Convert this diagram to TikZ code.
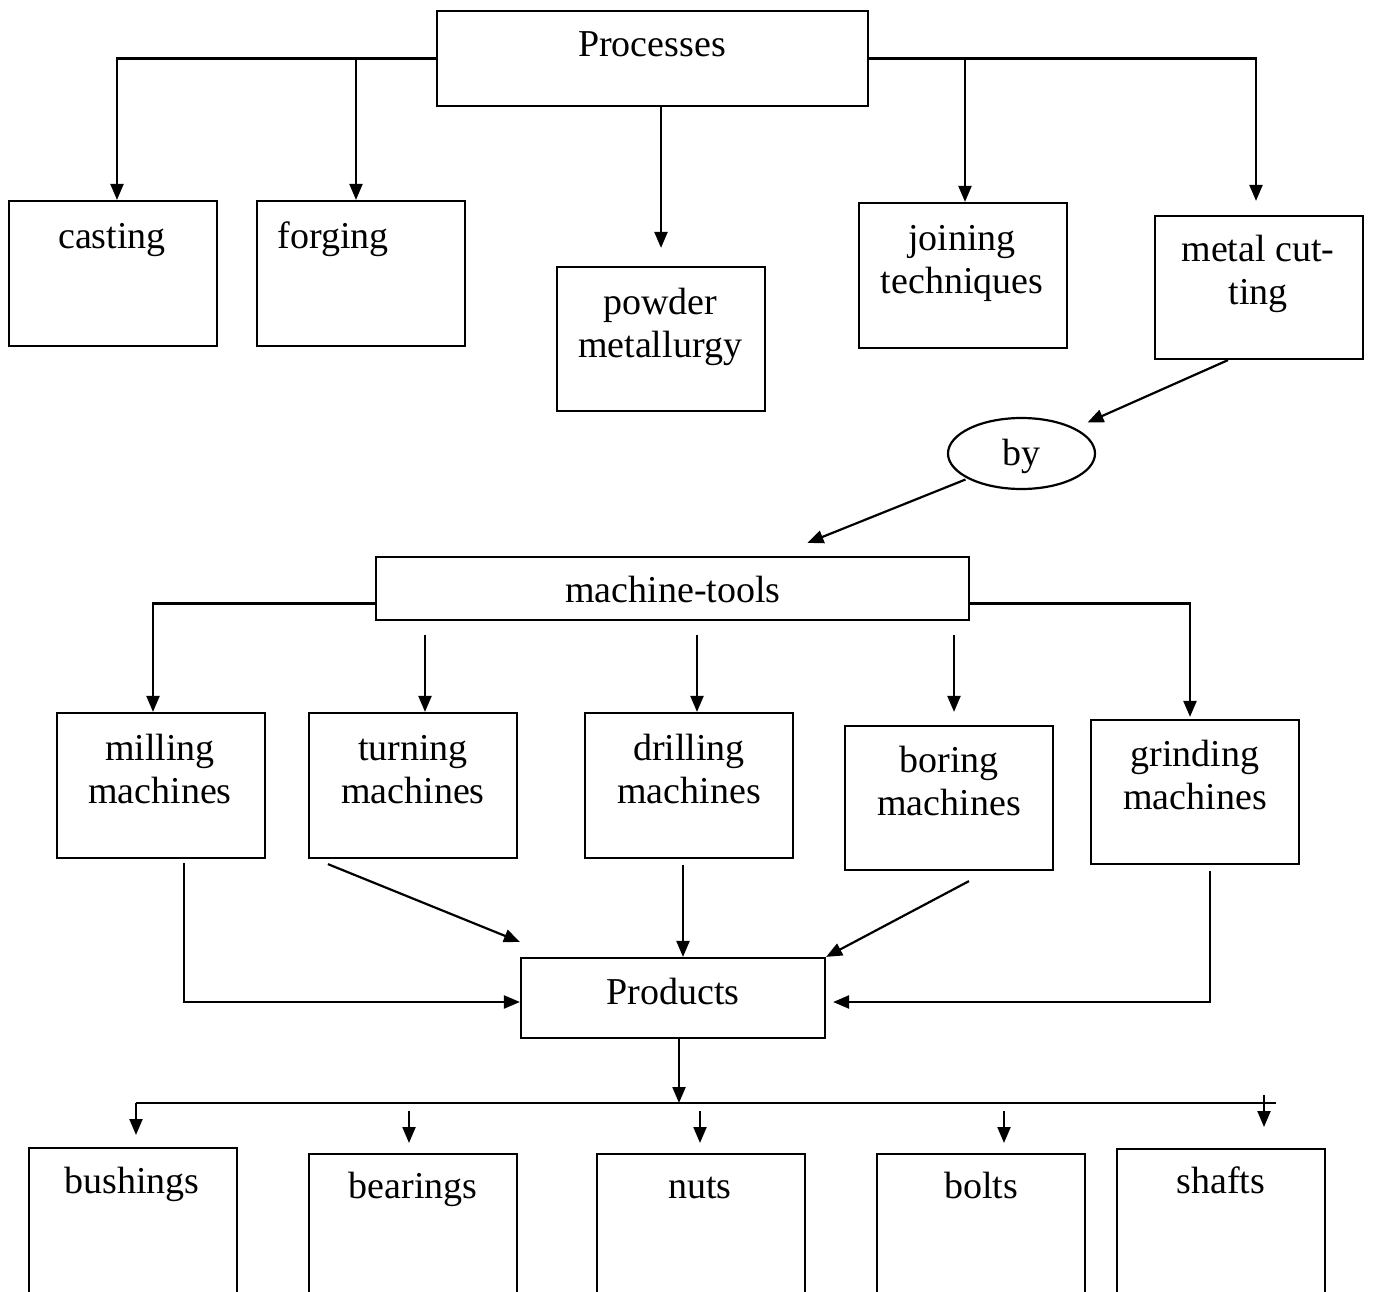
\documentclass[tikz,border=0pt]{standalone}
\usepackage{fontspec}
\setmainfont{Liberation Serif}
\usetikzlibrary{arrows.meta,shapes.geometric}
\begin{document}
\begin{tikzpicture}[x=1pt,y=-1pt,
  box/.style={draw,line width=2.2pt,inner sep=0pt,minimum width=208pt,minimum height=145pt},
  txt/.style={font=\fontsize{38}{43}\selectfont,align=center,inner sep=0pt,anchor=base},
  ln/.style={line width=2.2pt},
  arr/.style={line width=2.2pt,-{Triangle[length=16pt,width=13pt]}}]
\useasboundingbox (0,0) rectangle (1373,1292);
\clip (0,0) rectangle (1373,1292);
% top level
\node[box,minimum width=431pt,minimum height=95pt] (proc) at (652.5,58.5) {};
\node[txt] (procT) at (652,57) {Processes};
\node[box] (cast) at (113,273.5) {};
\node[txt] (castT) at (112,248) {casting};
\node[box] (forg) at (361,273.5) {};
\node[txt] (forgT) at (333,248) {forging};
\node[box,minimum height=144pt] (pow) at (661,339) {};
\node[txt] (powT) at (660,357) {powder\\metallurgy};
\node[box] (join) at (963,275.5) {};
\node[txt] (joinT) at (962,293) {joining\\techniques};
\node[box,minimum height=143pt] (mc) at (1259,287.5) {};
\node[txt] (mcT) at (1258,304) {metal cut-\\ting};
\node[draw,ellipse,line width=2.2pt,minimum width=147pt,minimum height=71pt,inner sep=0pt] (by) at (1021.5,453.5) {};
\node[txt] (byT) at (1021,465) {by};
% machine tools
\node[box,minimum width=593pt,minimum height=63pt] (mt) at (672.5,588.5) {};
\node[txt] (mtT) at (673,602) {machine-tools};
\node[box] (mill) at (161,785.5) {};
\node[txt] (millT) at (160,803) {milling\\machines};
\node[box] (turn) at (413,785.5) {};
\node[txt] (turnT) at (413,803) {turning\\machines};
\node[box] (drill) at (689,785.5) {};
\node[txt] (drillT) at (689,803) {drilling\\machines};
\node[box,minimum height=144pt] (bore) at (949,798) {};
\node[txt] (boreT) at (949,815) {boring\\machines};
\node[box,minimum height=144pt] (grind) at (1195,792) {};
\node[txt] (grindT) at (1195,809) {grinding\\machines};
\node[box,minimum width=304pt,minimum height=80pt] (prod) at (673,998) {};
\node[txt] (prodT) at (673,1004) {Products};
% products
\node[box,anchor=north,minimum height=200pt] (bush) at (133,1147) {};
\node[txt] (bushT) at (132,1193) {bushings};
\node[box,anchor=north,minimum height=200pt] (bear) at (413,1153) {};
\node[txt] (bearT) at (413,1198) {bearings};
\node[box,anchor=north,minimum height=200pt] (nuts) at (701,1153) {};
\node[txt] (nutsT) at (700,1198) {nuts};
\node[box,anchor=north,minimum height=200pt] (bolts) at (981,1153) {};
\node[txt] (boltsT) at (981,1198) {bolts};
\node[box,anchor=north,minimum height=200pt] (shafts) at (1221,1148) {};
\node[txt] (shaftsT) at (1221,1193) {shafts};
% connectors: processes
\draw[arr] (proc.west) -| ([xshift=4pt]cast.north);
\coordinate (fa) at ([xshift=-5pt]forg.north);
\draw[arr] (fa |- proc.west) -- (fa);
\coordinate (pa) at ([yshift=18pt]pow.north);
\draw[arr] (pa |- proc.south) -- (pa);
\coordinate (ja) at ([xshift=2pt]join.north);
\draw[arr] (ja |- proc.east) -- (ja);
\draw[arr] (proc.east) -| ([xshift=-3pt,yshift=14pt]mc.north);
\draw[arr] ([xshift=-31pt]mc.south) -- ([shift={(66pt,31pt)}]by.center);
\draw[arr] ([shift={(-56pt,-26pt)}]by.center) -- ([shift={(135pt,13pt)}]mt.north);
% connectors: machine tools
\draw[arr] ([yshift=-15pt]mt.west) -| ([xshift=-8pt]mill.north);
\draw[arr] ([yshift=-15pt]mt.east) -| ([xshift=-5pt,yshift=2pt]grind.north);
\path (mt.south) ++(0,14) coordinate (mtb);
\coordinate (ta) at ([xshift=12pt]turn.north);
\draw[arr] (ta |- mtb) -- (ta);
\coordinate (da) at ([xshift=8pt]drill.north);
\draw[arr] (da |- mtb) -- (da);
\coordinate (ba) at ([xshift=5pt,yshift=13pt]bore.north);
\draw[arr] (ba |- mtb) -- (ba);
% connectors to products
\draw[arr] ([xshift=23pt,yshift=-4pt]mill.south) |- ([yshift=-4pt]prod.west);
\draw[arr] ([xshift=20pt,yshift=-5pt]turn.south west) -- ([yshift=15pt]prod.north west);
\coordinate (dd) at ([xshift=-6pt,yshift=-6pt]drill.south);
\draw[arr] (dd) -- (dd |- prod.north);
\draw[arr] ([xshift=20pt,yshift=-10pt]bore.south) -- (prod.north east);
\draw[arr] ([xshift=15pt,yshift=-6pt]grind.south) |- ([xshift=7pt,yshift=-4pt]prod.east);
% products to items
\coordinate (busL) at (136,1103);
\coordinate (busR) at (1276,1103);
\coordinate (pd) at ([xshift=6pt]prod.south);
\draw[arr] (pd) -- (pd |- busL);
\draw[ln] (busL) -- (busR);
\coordinate (b1) at ([xshift=3pt,yshift=12pt]bush.north);
\draw[arr] (busL) -- (b1);
\coordinate (b2) at ([xshift=-4pt,yshift=10pt]bear.north);
\draw[arr] ([yshift=-8pt]b2 |- busL) -- (b2);
\coordinate (b3) at ([xshift=-1pt,yshift=10pt]nuts.north);
\draw[arr] ([yshift=-8pt]b3 |- busL) -- (b3);
\coordinate (b4) at ([xshift=23pt,yshift=10pt]bolts.north);
\draw[arr] ([yshift=-8pt]b4 |- busL) -- (b4);
\coordinate (b5) at ([xshift=43pt,yshift=21pt]shafts.north);
\draw[arr] ([yshift=8pt]b5 |- busL) -- (b5);
\end{tikzpicture}
\end{document}
